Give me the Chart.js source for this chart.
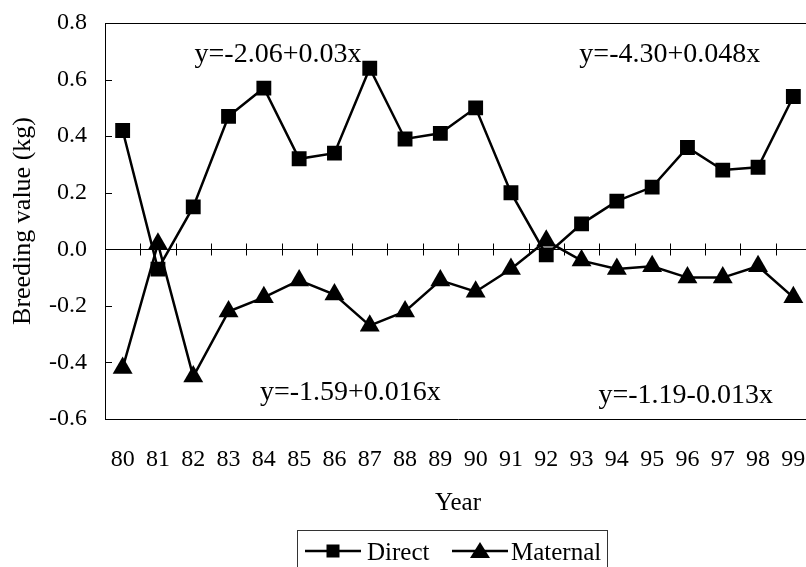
<!DOCTYPE html>
<html>
<head>
<meta charset="utf-8">
<script src="https://cdn.jsdelivr.net/npm/chart.js@4"></script>
<style>
  html, body { margin:0; padding:0; background:#fff; overflow:hidden; }
  #wrap { width:806px; height:567px; overflow:hidden; }
  canvas { display:block; }
</style>
</head>
<body>
<div id="wrap"><canvas id="c" width="812" height="567"></canvas></div>
<script>
// ── Data ────────────────────────────────────────────────────────────────
const years    = ['80','81','82','83','84','85','86','87','88','89',
                  '90','91','92','93','94','95','96','97','98','99'];
const direct   = [0.42,-0.07,0.15,0.47,0.57,0.32,0.34,0.64,0.39,0.41,
                  0.50,0.20,-0.02,0.09,0.17,0.22,0.36,0.28,0.29,0.54];
const maternal = [-0.42,0.02,-0.45,-0.22,-0.17,-0.11,-0.16,-0.27,-0.22,-0.11,
                  -0.15,-0.07,0.03,-0.04,-0.07,-0.06,-0.10,-0.10,-0.06,-0.17];
const yTicks   = [-0.6,-0.4,-0.2,0.0,0.2,0.4,0.6,0.8];

// regression equations: text, category position, value position
const eqTexts  = ['y=-2.06+0.03x','y=-4.30+0.048x','y=-1.59+0.016x','y=-1.19-0.013x'];
const eqIndex  = [4.4, 15.5, 6.45, 15.95];
const eqValue  = [0.662, 0.662, -0.533, -0.543];

const SERIF = '"Liberation Serif", "Times New Roman", serif';

// ── Extras: frame, zero line, inner ticks, equations, Year, legend ─────
const extras = {
  id:'extras',
  beforeDatasetsDraw(chart) {
    const {ctx, chartArea:a, scales:{x, y}} = chart;
    ctx.save();
    ctx.strokeStyle = '#000'; ctx.lineWidth = 1;
    // top frame line
    ctx.beginPath(); ctx.moveTo(a.left, a.top + 0.5); ctx.lineTo(a.right, a.top + 0.5); ctx.stroke();
    // inner y ticks
    yTicks.forEach(v => {
      const py = Math.round(y.getPixelForValue(v)) + 0.5;
      ctx.beginPath(); ctx.moveTo(a.left, py); ctx.lineTo(a.left + 7, py); ctx.stroke();
    });
    // zero line with category ticks
    const y0 = Math.round(y.getPixelForValue(0)) + 0.5;
    ctx.beginPath(); ctx.moveTo(a.left, y0); ctx.lineTo(a.right, y0); ctx.stroke();
    for (let i = 1; i < years.length; i++) {
      const px = Math.round((x.getPixelForValue(i - 1) + x.getPixelForValue(i)) / 2) + 0.5;
      ctx.beginPath(); ctx.moveTo(px, y0 - 6); ctx.lineTo(px, y0 + 6); ctx.stroke();
    }
    ctx.restore();
  },
  afterDraw(chart) {
    const {ctx, chartArea:a, scales:{x, y}} = chart;
    ctx.save();
    ctx.fillStyle = '#000';
    ctx.textBaseline = 'alphabetic';
    // equations
    ctx.font = '28px ' + SERIF; ctx.textAlign = 'center';
    eqTexts.forEach((t, i) => {
      ctx.fillText(t, x.getPixelForValue(eqIndex[i]), y.getPixelForValue(eqValue[i]));
    });
    // axis title
    ctx.font = '25px ' + SERIF;
    ctx.fillText('Year', (a.left + a.right) / 2, 510);
    // legend
    ctx.strokeStyle = '#333'; ctx.lineWidth = 1;
    ctx.strokeRect(297.5, 530.5, 310, 60);
    ctx.strokeStyle = '#000'; ctx.lineWidth = 2.5;
    const ly = 551;
    ctx.beginPath(); ctx.moveTo(305, ly); ctx.lineTo(361, ly); ctx.stroke();
    ctx.fillRect(333 - 6.5, ly - 6.5, 13, 13);
    ctx.beginPath(); ctx.moveTo(452, ly); ctx.lineTo(508, ly); ctx.stroke();
    ctx.beginPath(); ctx.moveTo(480, ly - 9); ctx.lineTo(490, ly + 7); ctx.lineTo(470, ly + 7); ctx.closePath(); ctx.fill();
    ctx.textAlign = 'left';
    ctx.fillText('Direct', 367, 560);
    ctx.fillText('Maternal', 511, 560);
    ctx.restore();
  }
};

// invisible tick marks only push the labels away from the axis
const hiddenGrid = len => ({ display:true, drawOnChartArea:false, drawTicks:true,
                             tickLength:len, color:'rgba(0,0,0,0)' });

new Chart(document.getElementById('c'), {
  type:'line',
  data:{
    labels: years,
    datasets:[
      { label:'Direct', data:direct, borderColor:'#000', backgroundColor:'#000',
        borderWidth:2.5, pointStyle:'rect', pointRadius:10.5, pointBorderWidth:0,
        tension:0 },
      { label:'Maternal', data:maternal, borderColor:'#000', backgroundColor:'#000',
        borderWidth:2.5, pointStyle:'triangle', pointRadius:11.5, pointBorderWidth:0,
        tension:0 }
    ]
  },
  options:{
    responsive:false, animation:false,
    layout:{ autoPadding:false, padding:{ top:23, right:1, left:0, bottom:0 } },
    plugins:{ legend:{display:false}, tooltip:{enabled:false} },
    scales:{
      x:{ type:'category', offset:true,
          grid: hiddenGrid(26),
          border:{ display:true, color:'#000', width:1 },
          ticks:{ color:'#000', font:{family:SERIF, size:24}, padding:0,
                  maxRotation:0, autoSkip:false },
          afterFit: s => { s.height = 148; s.paddingLeft = 0; s.paddingRight = 0; } },
      y:{ min:-0.6, max:0.8,
          grid: hiddenGrid(18),
          border:{ display:true, color:'#000', width:1 },
          ticks:{ stepSize:0.2, color:'#000', font:{family:SERIF, size:24}, padding:0,
                  callback: v => v.toFixed(1) },
          title:{ display:true, text:'Breeding value (kg)', color:'#000',
                  font:{family:SERIF, size:26}, padding:{top:8, bottom:0} },
          afterFit: s => { s.width = 105; s.paddingTop = 0; s.paddingBottom = 0; } }
    }
  },
  plugins:[extras]
});
</script>
</body>
</html>
